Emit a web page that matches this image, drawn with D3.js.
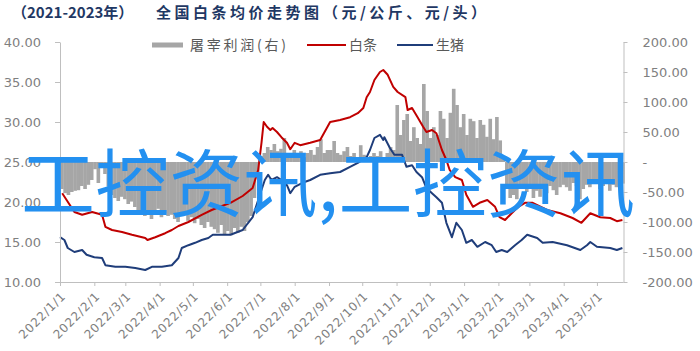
<!DOCTYPE html>
<html>
<head>
<meta charset="utf-8">
<script src="https://cdn.jsdelivr.net/npm/d3@7"></script>
<style>
  body { margin: 0; background: #fff; }
  svg { display: block; }
  .axis text { font-family: "DejaVu Sans", sans-serif; fill: #7f7f7f; }
  .axis path, .axis line { stroke: #bfbfbf; }
  .cjk { font-family: "Noto Sans CJK SC", sans-serif; }
</style>
</head>
<body>
<svg id="chart" width="700" height="351"></svg>
<script>
'use strict';

// slaughter profit (right axis), one bar every 3 days from profitStart
const profitStart = "2022-01-01";
const profitValues = [
  -45, -52, -55, -50, -48,
  -47, -40, -45, -38, -30,
  -12, -35, -8, -20, -40,
  -55, -60, -65, -58, -62, -70, -66, -75, -80, -85,
  -90, -82, -95, -88, -78, -92, -85, -90,
  -88, -95, -100, -90, -85, -98, -92, -102, -95, -105, -110, -100, -108,
  -112, -118, -105, -120, -115, -122, -110, -118, -108, -115, -100, -90,
  -60, -20, 10,
  15, 25, 20, 30, 18, 22, 40, 15, 12, 20, 10, 18, 8, 15, 20, 12, 25, 38, 15, 20,
  20, 35, 15, 12, 18, 25, 10, 15, 8, 28, 12, 5, 10, 15,
  10, 18, 8, 15, 25, 20,
  95, 45, 70, 80, 35, 58, 40, 30, 130, 85, 40, 58, 45, 85, 72, 40, 82, 122, 95, 58,
  80, 45, 72, 68, 40, 70, 62, 42, 72, 38, 75, 36, 10,
  -45, -60, -55, -62,
  -40, -45, -50, -42, -60, -48, -58, -45, -52, -40, -47, -55, -42,
  -38, -42, -48, -35, -40, -62, -45, -38, -42, -35, -30, -45, -40, -35, -48, -38, -42, -30, -36
];

// 白条 price (left axis)
const baitiaoDates = ["2022-01-03","2022-01-14","2022-01-21","2022-01-30","2022-02-08","2022-02-11","2022-02-17","2022-02-26",
  "2022-03-07","2022-03-19","2022-03-21","2022-03-28","2022-04-06","2022-04-12","2022-04-18","2022-04-27","2022-05-09","2022-05-18",
  "2022-06-04","2022-06-15","2022-06-24","2022-06-29","2022-07-02","2022-07-04","2022-07-07","2022-07-10","2022-07-12","2022-07-16",
  "2022-07-20","2022-07-25","2022-07-28","2022-08-01","2022-08-06","2022-08-15","2022-08-24","2022-09-02","2022-09-11","2022-09-20",
  "2022-09-27","2022-10-02","2022-10-05","2022-10-08","2022-10-12","2022-10-17","2022-10-20","2022-10-24","2022-10-29","2022-11-02",
  "2022-11-09","2022-11-11","2022-11-15","2022-11-20","2022-11-25","2022-11-28","2022-12-03","2022-12-07","2022-12-12","2022-12-16",
  "2022-12-19","2022-12-24","2022-12-30","2023-01-03","2023-01-09","2023-01-15","2023-01-22","2023-01-29","2023-02-02","2023-02-07",
  "2023-02-13","2023-02-19","2023-02-25","2023-03-04","2023-03-17","2023-03-29","2023-04-09","2023-04-17","2023-04-25","2023-05-04",
  "2023-05-13","2023-05-19","2023-05-24"];
const baitiaoPrice = [21.1, 18.75, 18.4, 18.75, 18.4, 16.9, 16.5, 16.25,
  15.9, 15.5, 15.25, 15.6, 16.1, 16.5, 17.0, 17.5, 18.4, 19.0,
  19.9, 20.75, 21.75, 24.0, 27.4, 30.0, 29.4, 29.0, 29.25, 28.75,
  28.1, 27.4, 26.6, 27.4, 27.1, 27.4, 27.75, 30.0, 30.25, 30.6,
  31.1, 31.75, 33.1, 33.75, 35.25, 36.25, 36.5, 35.9, 34.4, 33.75,
  33.1, 31.5, 31.75, 30.6, 29.4, 28.75, 29.0, 28.6, 26.5, 25.25,
  24.0, 23.1, 22.75, 20.9, 19.4, 19.9, 20.25, 19.4, 18.1, 17.75,
  18.6, 19.4, 19.9, 19.9, 19.0, 18.6, 18.0, 17.4, 18.6, 18.1,
  18.0, 17.6, 17.75];

// 生猪 price (left axis)
const hogDates = ["2022-01-01","2022-01-05","2022-01-08","2022-01-14","2022-01-21","2022-01-25","2022-02-01","2022-02-08",
  "2022-02-11","2022-02-20","2022-03-01","2022-03-10","2022-03-19","2022-03-25","2022-04-03","2022-04-12","2022-04-18","2022-04-21",
  "2022-04-27","2022-05-03","2022-05-09","2022-05-15","2022-05-19","2022-06-04","2022-06-15","2022-06-24","2022-07-01","2022-07-05",
  "2022-07-08","2022-07-11","2022-07-16","2022-07-20","2022-07-25","2022-07-28","2022-08-01","2022-08-08","2022-08-15","2022-08-24",
  "2022-09-02","2022-09-11","2022-09-20","2022-09-27","2022-10-05","2022-10-08","2022-10-12","2022-10-17","2022-10-20","2022-10-21",
  "2022-10-26","2022-10-30","2022-11-06","2022-11-10","2022-11-15","2022-11-19","2022-11-24","2022-11-28","2022-12-03","2022-12-07",
  "2022-12-12","2022-12-16","2022-12-21","2022-12-25","2022-12-30","2023-01-03","2023-01-08","2023-01-13","2023-01-20","2023-01-26",
  "2023-01-30","2023-02-04","2023-02-09","2023-02-16","2023-02-22","2023-02-27","2023-03-08","2023-03-13","2023-03-22","2023-04-04",
  "2023-04-16","2023-04-22","2023-04-25","2023-05-01","2023-05-13","2023-05-19","2023-05-24"];
const hogPrice = [15.6, 15.25, 14.25, 13.75, 14.0, 13.4, 13.1, 13.0,
  12.1, 11.9, 11.9, 11.75, 11.5, 11.9, 11.9, 12.1, 13.0, 14.25,
  14.6, 14.9, 15.25, 15.5, 15.9, 15.9, 16.5, 18.1, 21.1, 22.75,
  23.4, 22.75, 23.1, 22.75, 22.1, 21.1, 21.9, 22.4, 22.75, 23.4,
  23.6, 23.75, 24.4, 24.9, 25.6, 26.5, 28.0, 28.4, 27.75, 28.1,
  26.75, 25.9, 25.9, 24.4, 24.6, 23.75, 23.1, 21.75, 21.1, 20.6,
  19.9, 17.4, 15.6, 17.4, 16.5, 14.9, 15.25, 14.4, 15.0, 14.6,
  13.75, 14.0, 13.75, 14.6, 15.25, 15.9, 15.5, 14.9, 15.0, 14.6,
  14.0, 14.6, 15.0, 14.4, 14.25, 14.0, 14.25];

const leftTicks = [10, 15, 20, 25, 30, 35, 40];
const rightTicks = [-200, -150, -100, -50, 0, 50, 100, 150, 200];
const monthTicks = ["2022-01-01","2022-02-01","2022-03-01","2022-04-01","2022-05-01","2022-06-01","2022-07-01","2022-08-01",
  "2022-09-01","2022-10-01","2022-11-01","2022-12-01","2023-01-01","2023-02-01","2023-03-01","2023-04-01","2023-05-01"];

const seriesNames = ["屠宰利润(右)", "白条", "生猪"];
const seriesColors = ["#a6a6a6", "#c00000", "#1f3d7a"];

const parse = d3.timeParse("%Y-%m-%d");
const svg = d3.select("#chart");

const plot = { left: 60, right: 623.5, top: 42, bottom: 282 };

const x = d3.scaleTime()
  .domain([parse("2022-01-01"), parse("2023-05-25")])
  .range([plot.left, plot.right]);
const yL = d3.scaleLinear().domain([10, 40]).range([plot.bottom, plot.top]);
const yR = d3.scaleLinear().domain([-200, 200]).range([plot.bottom, plot.top]);

// profit bars
const start = parse(profitStart);
const bars = profitValues.map((v, i) => ({ date: d3.timeDay.offset(start, i * 3), v: v }));
const barW = x(d3.timeDay.offset(start, 3)) - x(start);

svg.append("g").selectAll("rect").data(bars).join("rect")
  .attr("x", d => x(d.date))
  .attr("width", barW + 0.3)
  .attr("y", d => Math.min(yR(d.v), yR(0)))
  .attr("height", d => Math.abs(yR(d.v) - yR(0)))
  .attr("fill", seriesColors[0]);

// lines
const line = d3.line().x(d => x(d[0])).y(d => yL(d[1]));
const redData = baitiaoDates.map((d, i) => [parse(d), baitiaoPrice[i]]);
const blueData = hogDates.map((d, i) => [parse(d), hogPrice[i]]);

svg.append("path").datum(redData)
  .attr("d", line).attr("fill", "none")
  .attr("stroke", seriesColors[1]).attr("stroke-width", 2).attr("stroke-linejoin", "round");
svg.append("path").datum(blueData)
  .attr("d", line).attr("fill", "none")
  .attr("stroke", seriesColors[2]).attr("stroke-width", 2).attr("stroke-linejoin", "round");

// axes
const gL = svg.append("g").attr("class", "axis")
  .attr("transform", `translate(${plot.left},0)`)
  .call(d3.axisLeft(yL).tickValues(leftTicks).tickFormat(d3.format(".2f")).tickSize(5).tickPadding(14).tickSizeOuter(0));
gL.selectAll("text").style("font-size", "13px");

const fmtR = d => d === 0 ? "-" : (d < 0 ? "-" : "") + Math.abs(d).toFixed(2);
const gR = svg.append("g").attr("class", "axis")
  .attr("transform", `translate(${plot.right},0)`)
  .call(d3.axisRight(yR).tickValues(rightTicks).tickFormat(fmtR).tickSize(4).tickPadding(15).tickSizeOuter(0));
gR.selectAll("text").style("font-size", "13px");

const gB = svg.append("g").attr("class", "axis")
  .attr("transform", `translate(0,${plot.bottom})`)
  .call(d3.axisBottom(x).tickValues(monthTicks.map(parse)).tickFormat(d3.timeFormat("%Y/%-m/%-d")).tickSize(4).tickSizeOuter(0));
gB.select(".domain").attr("d", `M${plot.left},0.5H${plot.right}`);
gB.selectAll("text")
  .attr("x", 0).attr("y", 0).attr("dy", "0.35em")
  .attr("transform", "translate(3,12) rotate(-45)")
  .style("text-anchor", "end")
  .style("font-size", "12px")
  .style("letter-spacing", "0.8px");

// title
const title = svg.append("g").attr("class", "cjk").attr("fill", "#1f3864")
  .style("font-size", "15px").style("font-weight", "bold");
title.append("text").attr("x", 12).attr("y", 18).text("（2021-2023年）");
title.append("text").attr("x", 156).attr("y", 18).style("letter-spacing", "3.5px").text("全国白条均价走势图");
title.append("text").attr("x", 323).attr("y", 18).style("letter-spacing", "3.5px").text("（元/公斤、元/头）");

// legend
const lg = svg.append("g").attr("class", "cjk").style("font-size", "14px").attr("fill", "#595959");
lg.append("rect").attr("x", 152).attr("y", 42.5).attr("width", 31).attr("height", 5).attr("fill", seriesColors[0]);
lg.append("text").attr("x", 190).attr("y", 50).attr("textLength", 96).text(seriesNames[0]);
lg.append("line").attr("x1", 307).attr("x2", 346).attr("y1", 45).attr("y2", 45)
  .attr("stroke", seriesColors[1]).attr("stroke-width", 2);
lg.append("text").attr("x", 349).attr("y", 50).text(seriesNames[1]);
lg.append("line").attr("x1", 397).attr("x2", 433).attr("y1", 45).attr("y2", 45)
  .attr("stroke", seriesColors[2]).attr("stroke-width", 2);
lg.append("text").attr("x", 436).attr("y", 50).text(seriesNames[2]);

// overlay watermark text
svg.append("text").attr("class", "cjk")
  .attr("x", 21).attr("y", 211)
  .attr("textLength", 614).attr("lengthAdjust", "spacing")
  .style("font-size", "74px").style("font-weight", "400")
  .attr("fill", "#2390f0")
  .text("工控资讯,工控资讯");
</script>
</body>
</html>
